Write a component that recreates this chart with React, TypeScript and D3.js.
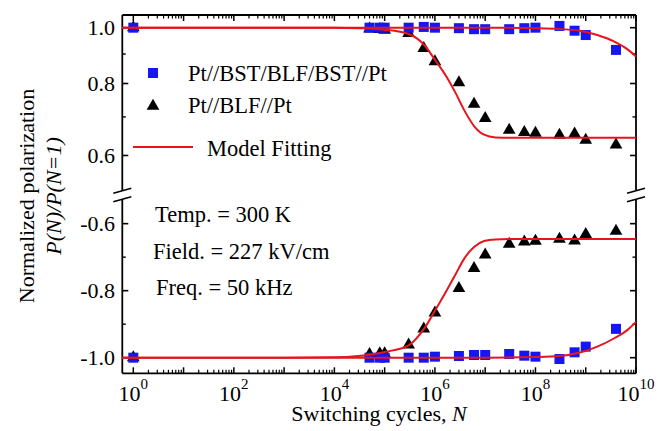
import * as d3 from "d3";

// switching cycles where both films were measured
const cycles = [1, 5e4, 8e4, 1e5, 3e5, 6e5, 1e6, 3e6, 6e6, 1e7, 3e7, 6e7, 1e8, 3e8, 6e8, 1e9, 4e9];
const bstPos = [1.0, 1.0, 1.0, 1.0, 1.0, 1.003, 1.0, 0.998, 0.994, 0.994, 0.994, 0.998, 1.0, 1.007, 0.988, 0.971, 0.915];
const bstNeg = [-1.0, -1.0, -1.0, -1.0, -1.0, -1.0, -0.997, -0.995, -0.992, -0.992, -0.989, -0.994, -0.997, -1.004, -0.984, -0.967, -0.914];
const blfPos = [1.0, 0.995, 0.993, 0.99, 0.978, 0.921, 0.873, 0.803, 0.737, 0.696, 0.664, 0.658, 0.656, 0.651, 0.654, 0.638, 0.626];
const blfNeg = [-1.0, -0.99, -0.988, -0.988, -0.962, -0.914, -0.866, -0.793, -0.733, -0.693, -0.661, -0.654, -0.652, -0.646, -0.651, -0.632, -0.622];

// model fitting curves
const blfFitN = [0.6, 1e3, 1e4, 3e4, 1e5, 3e5, 6e5, 1e6, 1.7e6, 2.6e6, 3.8e6, 6e6, 9.5e6, 1.6e7, 3e7, 1e10];
const blfFitPos = [1, 1, 1, 0.998, 0.992, 0.975, 0.935, 0.88, 0.822, 0.769, 0.72, 0.675, 0.652, 0.645, 0.644, 0.644];
const blfFitNeg = [-1, -1, -0.999, -0.995, -0.983, -0.963, -0.915, -0.86, -0.8, -0.75, -0.705, -0.67, -0.652, -0.647, -0.646, -0.646];
const bstFitN = [0.6, 1e6, 1e7, 1e8, 3e8, 8e8, 1.7e9, 3.7e9, 6.8e9, 1e10];
const bstFitPos = [1, 1, 1, 0.998, 0.995, 0.987, 0.971, 0.946, 0.917, 0.891];
const bstFitNeg = [-1, -1, -1, -0.998, -0.995, -0.984, -0.967, -0.942, -0.917, -0.893];

const upperMajor = [0.6, 0.8, 1.0];
const upperMinor = [0.7, 0.9];
const lowerMajor = [-1.0, -0.8, -0.6];
const lowerMinor = [-0.9, -0.7];
const decades = d3.range(0, 11);
const labelDecades = [0, 2, 4, 6, 8, 10];

const W = 665, H = 431;
const left = 122.3, right = 636, top = 15, bottom = 373.3;
const breakTop = 190.8, breakBot = 199.2;

const font = '"Liberation Serif", "Times New Roman", Times, serif';
const red = "#e8141c";
const blue = "#1616f2";

export default function App() {
  const x = d3.scaleLog().domain([0.604, 1e10]).range([left, right]);
  const yUp = d3.scaleLog().domain([0.521, 1.052]).range([breakTop, top]);
  const yLo = d3.scaleLinear().domain([-1.0466, -0.527]).range([bottom, breakBot]);

  const minorX: number[] = [];
  decades.slice(0, 10).forEach(d => {
    for (let k = 2; k <= 9; k++) minorX.push(k * Math.pow(10, d));
  });

  const lineUp = d3.line<[number, number]>().x(d => x(d[0])).y(d => yUp(d[1])).curve(d3.curveMonotoneX);
  const lineLo = d3.line<[number, number]>().x(d => x(d[0])).y(d => yLo(d[1])).curve(d3.curveMonotoneX);
  const zip = (a: number[], b: number[]) => a.map((v, i) => [v, b[i]] as [number, number]);

  const sq = 10;
  const tri = d3.symbol(d3.symbolTriangle, 70)() as string;

  const yTicks = (scale: any, major: number[], minor: number[]) => (
    <g>
      {major.map(v => (
        <g key={"M" + v}>
          <line x1={left} x2={left + 6} y1={scale(v)} y2={scale(v)} stroke="black" strokeWidth={1.6} />
          <line x1={right} x2={right - 6} y1={scale(v)} y2={scale(v)} stroke="black" strokeWidth={1.6} />
          <text x={115} y={scale(v)} dy="0.35em" textAnchor="end" fontSize={22}>{v.toFixed(1)}</text>
        </g>
      ))}
      {minor.map(v => (
        <g key={"m" + v}>
          <line x1={left} x2={left + 3.5} y1={scale(v)} y2={scale(v)} stroke="black" strokeWidth={1.4} />
          <line x1={right} x2={right - 3.5} y1={scale(v)} y2={scale(v)} stroke="black" strokeWidth={1.4} />
        </g>
      ))}
    </g>
  );

  const breakMark = (ax: number) => (
    <g>
      <polygon points={`${ax - 9},${breakTop + 2.5} ${ax + 9},${breakTop - 2.5} ${ax + 9},${breakBot - 2.5} ${ax - 9},${breakBot + 2.5}`} fill="white" />
      <line x1={ax - 9} y1={breakTop + 2.5} x2={ax + 9} y2={breakTop - 2.5} stroke="black" strokeWidth={1.5} />
      <line x1={ax - 9} y1={breakBot + 2.5} x2={ax + 9} y2={breakBot - 2.5} stroke="black" strokeWidth={1.5} />
    </g>
  );

  return (
    <svg width={W} height={H} style={{ position: "absolute", left: 0, top: 0, background: "white", fontFamily: font }}>
      {/* frame */}
      <line x1={left} x2={right} y1={top} y2={top} stroke="black" strokeWidth={1.8} />
      <line x1={left} x2={right} y1={bottom} y2={bottom} stroke="black" strokeWidth={1.8} />
      <line x1={left} x2={left} y1={top} y2={bottom} stroke="black" strokeWidth={1.8} />
      <line x1={right} x2={right} y1={top} y2={bottom} stroke="black" strokeWidth={1.8} />

      {/* x ticks */}
      {decades.map(d => {
        const px = x(Math.pow(10, d));
        return (
          <g key={"xd" + d}>
            <line x1={px} x2={px} y1={bottom} y2={bottom - 6} stroke="black" strokeWidth={1.5} />
            <line x1={px} x2={px} y1={top} y2={top + 6} stroke="black" strokeWidth={1.5} />
          </g>
        );
      })}
      {minorX.map(v => (
        <g key={"xm" + v}>
          <line x1={x(v)} x2={x(v)} y1={bottom} y2={bottom - 3.5} stroke="black" strokeWidth={1.2} />
          <line x1={x(v)} x2={x(v)} y1={top} y2={top + 3.5} stroke="black" strokeWidth={1.2} />
        </g>
      ))}
      {labelDecades.map(d => (
        <text key={"xl" + d} x={x(Math.pow(10, d))} y={401} textAnchor="middle" fontSize={22}>
          10<tspan dy={-12} fontSize={15}>{d}</tspan>
        </text>
      ))}

      {yTicks(yUp, upperMajor, upperMinor)}
      {yTicks(yLo, lowerMajor, lowerMinor)}

      {breakMark(left)}
      {breakMark(right)}

      {/* titles */}
      <text x={379} y={421} textAnchor="middle" fontSize={22}>
        Switching cycles, <tspan fontStyle="italic">N</tspan>
      </text>
      <text transform="translate(34,196) rotate(-90)" textAnchor="middle" fontSize={22}>Normalized polarization</text>
      <text transform="translate(61,196) rotate(-90)" textAnchor="middle" fontSize={22} fontStyle="italic">P(N)/P(N=1)</text>

      {/* data: triangles, squares, then fits on top */}
      {cycles.map((n, i) => (
        <g key={"t" + i}>
          <path d={tri} transform={`translate(${x(n)},${yUp(blfPos[i])})`} fill="black" />
          <path d={tri} transform={`translate(${x(n)},${yLo(blfNeg[i])})`} fill="black" />
        </g>
      ))}
      {cycles.map((n, i) => (
        <g key={"s" + i}>
          <rect x={x(n) - sq / 2} y={yUp(bstPos[i]) - sq / 2} width={sq} height={sq} fill={blue} />
          <rect x={x(n) - sq / 2} y={yLo(bstNeg[i]) - sq / 2} width={sq} height={sq} fill={blue} />
        </g>
      ))}
      <path d={lineUp(zip(blfFitN, blfFitPos)) || ""} fill="none" stroke={red} strokeWidth={2} />
      <path d={lineLo(zip(blfFitN, blfFitNeg)) || ""} fill="none" stroke={red} strokeWidth={2} />
      <path d={lineUp(zip(bstFitN, bstFitPos)) || ""} fill="none" stroke={red} strokeWidth={2} />
      <path d={lineLo(zip(bstFitN, bstFitNeg)) || ""} fill="none" stroke={red} strokeWidth={2} />

      {/* legend */}
      <rect x={153 - sq / 2} y={73 - sq / 2} width={sq} height={sq} fill={blue} />
      <text x={188} y={81} fontSize={22.5}>Pt//BST/BLF/BST//Pt</text>
      <path d={tri} transform="translate(153,106)" fill="black" />
      <text x={188} y={113} fontSize={22.5}>Pt//BLF//Pt</text>
      <line x1={133} x2={193} y1={147} y2={147} stroke={red} strokeWidth={2} />
      <text x={207} y={156} fontSize={22.5}>Model Fitting</text>

      {/* conditions */}
      <text x={155} y={222} fontSize={22.5}>Temp. = 300 K</text>
      <text x={153} y={259} fontSize={22.5}>Field. = 227 kV/cm</text>
      <text x={156} y={295} fontSize={22.5}>Freq. = 50 kHz</text>
    </svg>
  );
}
